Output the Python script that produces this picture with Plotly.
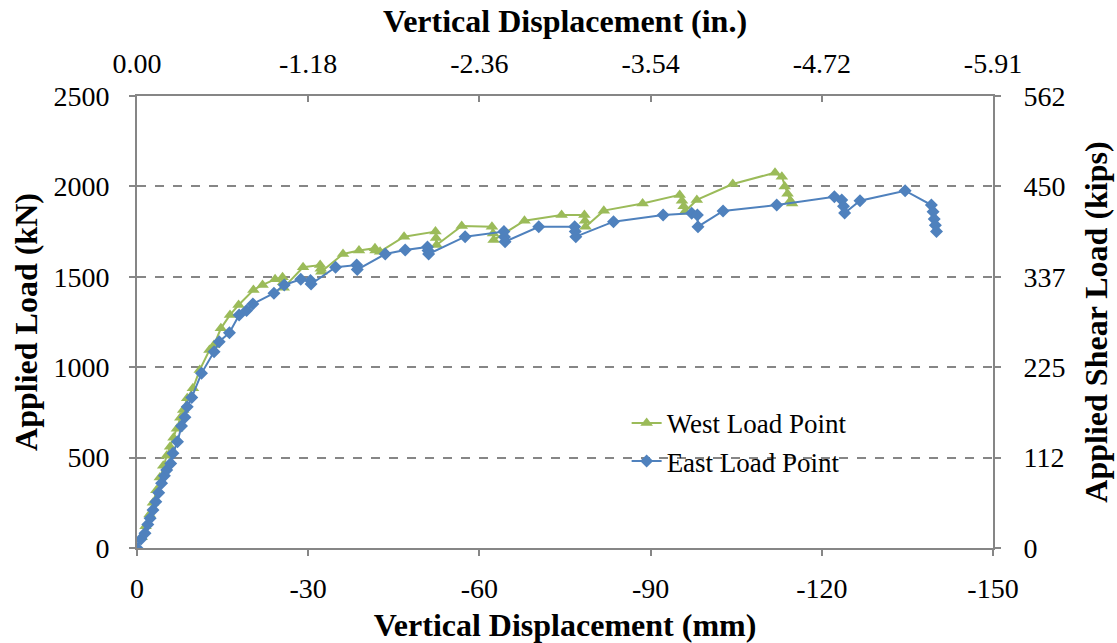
import plotly.graph_objects as go

# West load point: vertical displacement (mm) and applied load (kN)
west_disp_mm = [0, -0.8, -1.5, -2.2, -2.8, -3.4, -4.0, -4.6, -5.2, -5.8, -6.4, -7.0, -7.6,
                -8.1, -8.8, -9.8, -11.0, -12.7, -13.5, -14.7, -16.3, -17.8, -20.4, -22.0,
                -24.2, -25.5, -25.6, -25.7, -29.1, -32.1, -32.2, -32.3, -36.1, -38.9,
                -41.7, -41.8, -42.6, -46.8, -52.3, -52.4, -52.5, -56.9, -62.2, -62.4,
                -62.5, -67.9, -74.4, -78.4, -78.5, -78.6, -81.8, -88.6, -95.1, -95.5,
                -95.8, -96.0, -98.1, -104.4, -111.8, -113.0, -113.5, -114.0, -114.5, -114.8]
west_load_kN = [0, 60, 120, 185, 250, 320, 390, 455, 510, 560, 610, 660, 720,
                763, 828, 883, 985, 1095, 1123, 1215, 1289, 1344, 1427, 1455,
                1486, 1497, 1470, 1440, 1553, 1565, 1545, 1528, 1626, 1645,
                1658, 1645, 1639, 1722, 1750, 1715, 1676, 1781, 1777, 1740,
                1704, 1810, 1842, 1842, 1810, 1777, 1866, 1906, 1953, 1920,
                1890, 1860, 1925, 2013, 2076, 2054, 2000, 1960, 1920, 1905]

# East load point: vertical displacement (mm) and applied load (kN)
east_disp_mm = [0, -0.7, -1.4, -1.9, -2.3, -2.8, -3.3, -3.8, -4.3, -4.8, -5.2, -5.9, -6.3,
                -7.1, -7.8, -8.4, -8.8, -9.6, -11.3, -13.5, -14.4, -16.2, -17.9, -19.2,
                -20.3, -24.0, -25.8, -28.7, -30.4, -30.5, -34.8, -38.5, -38.6, -43.5,
                -47.0, -50.9, -51.0, -51.1, -57.5, -64.3, -64.4, -64.5, -70.4, -76.7,
                -76.8, -76.9, -83.5, -92.2, -97.2, -98.2, -98.3, -102.7, -112.1, -122.2,
                -123.5, -123.8, -124.0, -126.7, -134.6, -139.2, -139.5, -139.7, -139.9, -140.1]
east_load_kN = [0, 50, 81, 130, 164, 210, 256, 305, 358, 400, 431, 468, 524,
                588, 675, 723, 781, 833, 966, 1086, 1141, 1191, 1289, 1313,
                1350, 1409, 1455, 1486, 1480, 1460, 1553, 1565, 1540, 1626,
                1648, 1665, 1645, 1626, 1722, 1750, 1720, 1694, 1777, 1777,
                1750, 1722, 1805, 1842, 1851, 1842, 1777, 1864, 1897, 1943,
                1925, 1890, 1853, 1921, 1976, 1897, 1860, 1820, 1785, 1750]

# Axis ticks (mm and kN); secondary axes are unit conversions of these
x_ticks_mm = [0, -30, -60, -90, -120, -150]
y_ticks_kN = [0, 500, 1000, 1500, 2000, 2500]
MM_PER_IN = 25.4
KIPS_PER_KN = 0.224809

GREEN = "#9BBB59"
BLUE = "#4F81BD"
AXIS = "#868686"
FONT = "Times New Roman, Liberation Serif, serif"

fig = go.Figure()

fig.add_trace(go.Scatter(
    x=west_disp_mm, y=west_load_kN, mode="lines+markers", name="West Load Point",
    line=dict(color=GREEN, width=2),
    marker=dict(symbol="triangle-up", size=11, color=GREEN),
    legendgroup="w",
))
fig.add_trace(go.Scatter(
    x=east_disp_mm, y=east_load_kN, mode="lines+markers", name="East Load Point",
    line=dict(color=BLUE, width=2),
    marker=dict(symbol="diamond", size=10, color=BLUE),
    legendgroup="e",
))
# Same curve in inches / kips so the secondary axes are populated
fig.add_trace(go.Scatter(
    x=[d / MM_PER_IN for d in east_disp_mm], y=[p * KIPS_PER_KN for p in east_load_kN],
    xaxis="x2", yaxis="y2", mode="lines", line=dict(width=0, color="rgba(0,0,0,0)"),
    showlegend=False, hoverinfo="skip",
))

tick_font = dict(family=FONT, size=28, color="black")
title_font = dict(family=FONT, size=32, color="black", weight="bold")

fig.update_layout(
    width=1117, height=643,
    margin=dict(l=137, r=124, t=96, b=95),
    paper_bgcolor="white", plot_bgcolor="white",
    font=dict(family=FONT, color="black"),
    showlegend=True,
    legend=dict(
        x=0.572, y=0.330, xanchor="left", yanchor="top",
        font=dict(family=FONT, size=27, color="black"),
        bgcolor="rgba(0,0,0,0)", tracegroupgap=0,
    ),
    xaxis=dict(
        range=[0, -150], tickvals=x_ticks_mm, ticktext=[str(v) for v in x_ticks_mm],
        ticks="outside", ticklen=6, tickcolor=AXIS, tickwidth=2, ticklabelstandoff=8,
        showline=True, linecolor=AXIS, linewidth=2, automargin=False,
        showgrid=False, zeroline=False, tickfont=tick_font,
        title=dict(text="Vertical Displacement (mm)", font=title_font, standoff=12),
    ),
    xaxis2=dict(
        overlaying="x", side="top", range=[0, -150 / MM_PER_IN],
        tickvals=[v / MM_PER_IN for v in x_ticks_mm],
        ticktext=[f"{v / MM_PER_IN:.2f}" for v in x_ticks_mm],
        ticks="inside", ticklen=6, tickcolor=AXIS, tickwidth=2, ticklabelstandoff=10,
        showline=True, linecolor=AXIS, linewidth=2, automargin=False,
        showgrid=False, zeroline=False, tickfont=tick_font,
        title=dict(text="Vertical Displacement (in.)", font=title_font, standoff=6),
    ),
    yaxis=dict(
        range=[0, 2500], tickvals=y_ticks_kN,
        ticks="outside", ticklen=6, tickcolor=AXIS, tickwidth=2, ticklabelstandoff=14,
        showline=True, linecolor=AXIS, linewidth=2, automargin=False,
        showgrid=True, gridcolor=AXIS, gridwidth=1.5, griddash="dash",
        zeroline=False, tickfont=tick_font,
        title=dict(text="Applied Load (kN)", font=title_font, standoff=6),
    ),
    yaxis2=dict(
        overlaying="y", side="right", range=[0, 2500 * KIPS_PER_KN],
        tickvals=[v * KIPS_PER_KN for v in y_ticks_kN],
        ticktext=[f"{v * KIPS_PER_KN:.0f}" for v in y_ticks_kN],
        ticks="outside", ticklen=6, tickcolor=AXIS, tickwidth=2, ticklabelstandoff=17,
        showline=True, linecolor=AXIS, linewidth=2, automargin=False,
        showgrid=False, zeroline=False, tickfont=tick_font,
        title=dict(text="Applied Shear Load (kips)", font=title_font, standoff=20),
    ),
)

fig.write_html("out.html")
